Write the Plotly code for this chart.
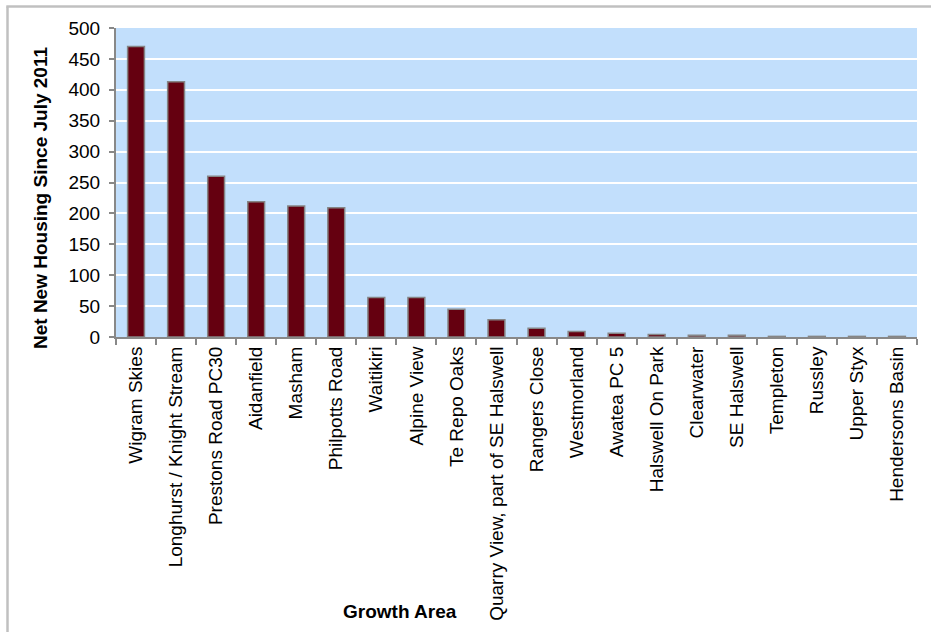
import plotly.graph_objects as go

areas = ["Wigram Skies", "Longhurst / Knight Stream", "Prestons Road PC30", "Aidanfield",
         "Masham", "Philpotts Road", "Waitikiri", "Alpine View", "Te Repo Oaks",
         "Quarry View, part of SE Halswell", "Rangers Close", "Westmorland", "Awatea PC 5",
         "Halswell On Park", "Clearwater", "SE Halswell", "Templeton", "Russley",
         "Upper Styx", "Hendersons Basin"]
net_housing = [470, 413, 260, 219, 212, 209, 64, 64, 45, 28, 14, 9, 6, 4, 3, 3, 1, 1, 1, 1]
y_ticks = [0, 50, 100, 150, 200, 250, 300, 350, 400, 450, 500]

FONT = "Liberation Sans, Arial, sans-serif"

fig = go.Figure(go.Bar(
    x=areas, y=net_housing,
    width=0.42,
    marker=dict(color="#650010", line=dict(color="#858585", width=1.5)),
))

L, R, T, B = 116, 14, 28, 295
W, H = 931, 632
pw, ph = W - L - R, H - T - B

def px(x):
    return (x - L) / pw

def py(y):
    return (H - B - y) / ph

fig.update_layout(
    width=W, height=H,
    margin=dict(l=L, r=R, t=T, b=B, pad=0),
    paper_bgcolor="white", plot_bgcolor="#c2dffc",
    font=dict(family=FONT, size=19, color="black"),
    showlegend=False,
    bargap=0.58,
    xaxis=dict(
        type="category", tickangle=-90, tickson="boundaries",
        ticks="outside", ticklen=6, tickcolor="#888888", tickwidth=1.5,
        showline=True, linecolor="#888888", linewidth=2,
        showgrid=False, tickfont=dict(size=19),
        range=[-0.5, len(areas) - 0.5],
    ),
    yaxis=dict(
        range=[0, 500], tickvals=y_ticks,
        ticks="outside", ticklen=5, tickcolor="#888888", tickwidth=1.5,
        showline=True, linecolor="#888888", linewidth=2,
        showgrid=True, gridcolor="white", gridwidth=2,
        zeroline=False, tickfont=dict(size=19), ticklabelstandoff=5,
    ),
    annotations=[
        dict(text="<b>Growth Area</b>", x=px(400), y=py(611), xref="paper", yref="paper",
             showarrow=False, xanchor="center", yanchor="middle", font=dict(size=19)),
        dict(text="<b>Net New Housing Since July 2011</b>", x=px(40), y=py(198),
             xref="paper", yref="paper", textangle=-90,
             showarrow=False, xanchor="center", yanchor="middle", font=dict(size=19)),
    ],
    shapes=[
        dict(type="line", xref="paper", yref="paper", x0=px(7.5), x1=px(7.5),
             y0=py(6.5), y1=py(640), line=dict(color="#c0c0c0", width=2.5)),
        dict(type="line", xref="paper", yref="paper", x0=px(6.3), x1=px(940),
             y0=py(6.5), y1=py(6.5), line=dict(color="#c0c0c0", width=2.5)),
    ],
)

fig.write_html("out.html")
